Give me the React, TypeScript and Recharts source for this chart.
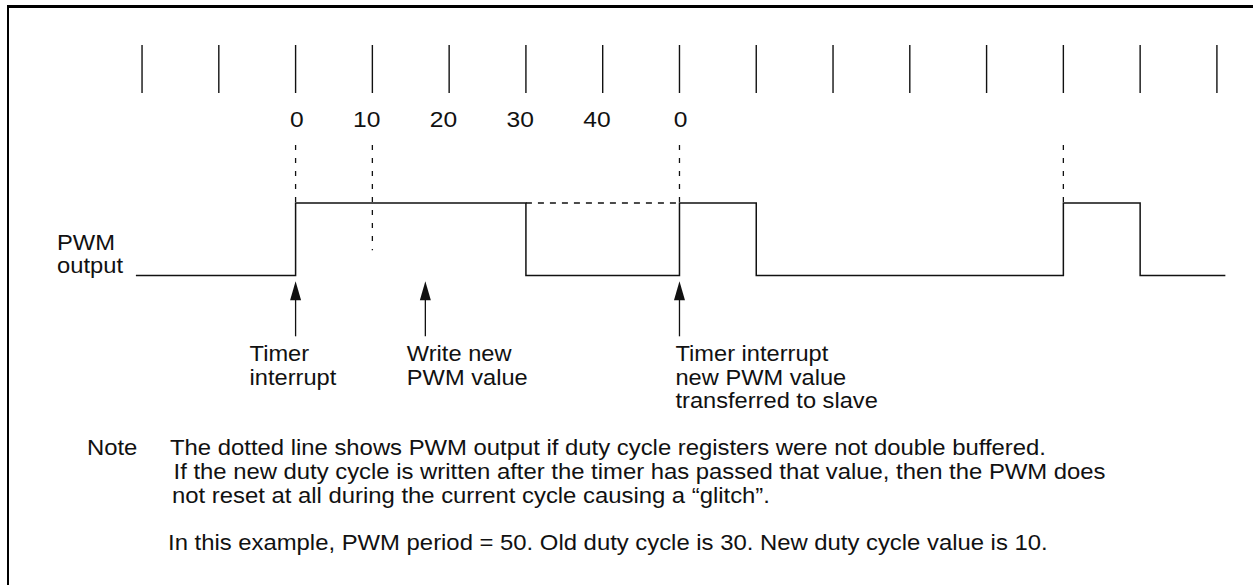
import React from "react";
import {ComposedChart, XAxis, YAxis, Line, Scatter, ReferenceLine} from "recharts";

// counter ticks, every 10 counts
const tickTimes = [-20, -10, 0, 10, 20, 30, 40, 50, 60, 70, 80, 90, 100, 110, 120]
const counterLabels = ['0', '10', '20', '30', '40', '0'] // printed under ticks 0..50

// PWM output, level at each edge (stepAfter)
const edgeTimes = [-20.8, 0, 30, 50, 60, 100, 110, 121.1]
const pwmLevels = [0, 1, 0, 1, 0, 1, 0, 0]

// what the output would do without double buffering
const glitchTimes = [30, 50]

// dotted guides dropped from the counter row
const guideTimes = [0, 10, 50, 100]
const guideEnds = [1, 0.35, 1, 1]
const guideTop = 1.8

const arrowTimes = [0, 16.9, 50]
const arrowTexts = [
    ['Timer', 'interrupt'],
    ['Write new', 'PWM value'],
    ['Timer interrupt', 'new PWM value', 'transferred to slave'],
]
const arrowTip = -0.08

const noteLines = [
    'The dotted line shows PWM output if duty cycle registers were not double buffered.',
    'If the new duty cycle is written after the timer has passed that value, then the PWM does',
    'not reset at all during the current cycle causing a \u201cglitch\u201d.',
]
const exampleLine = 'In this example, PWM period = 50. Old duty cycle is 30. New duty cycle value is 10.'

const W = 1253
const H = 585
const FONT = '"Liberation Sans", Arial, Helvetica, sans-serif'
const INK = '#111'
const LABEL_DX = [-46, -18.5, -4]
const NOTE_X = [170, 173.5, 172]

const pwmData = edgeTimes.map((t, i) => ({t, level: pwmLevels[i]}))
const glitchData = glitchTimes.map(t => ({t, level: 1}))
const arrowData = arrowTimes.map((t, i) => ({t, y: arrowTip, i}))

// the source lettering is a bit wider than Arial, so stretch it
const Txt = ({x, y, children, sx = 1.08, anchor = 'start'}: any) =>
    <text transform={`translate(${x},${y}) scale(${sx},1)`} textAnchor={anchor}
          fontSize={22} fontFamily={FONT} fill={INK}>{children}</text>

const CounterTick = (props: any) => {
    const {x, payload} = props
    const k = payload.value / 10
    const label = k >= 0 && k < counterLabels.length ? counterLabels[k] : ''
    return <g>
        <line x1={x} x2={x} y1={45} y2={93} stroke={INK} strokeWidth={1.4}/>
        {label && <Txt x={x + 8} y={127} sx={1.12} anchor="end">{label}</Txt>}
    </g>
}

const ArrowMark = (props: any) => {
    const {cx, cy, payload} = props
    const i = payload.i
    return <g>
        <polygon points={`${cx},${cy} ${cx - 5.5},${cy + 19} ${cx + 5.5},${cy + 19}`} fill={INK}/>
        <line x1={cx} x2={cx} y1={cy + 18} y2={cy + 55} stroke={INK} strokeWidth={1.3}/>
        {arrowTexts[i].map((s, j) =>
            <Txt key={j} x={cx + LABEL_DX[i]} y={cy + 80 + j * 23.5} sx={1.075}>{s}</Txt>)}
    </g>
}

export default function App() {
    return <div style={{position: 'absolute', left: 0, top: 0, width: W, height: H, background: '#fff', overflow: 'hidden'}}>
        <div style={{position: 'absolute', left: 7, top: 5, width: W, height: H, borderTop: '3px solid #000', borderLeft: '2px solid #000'}}/>
        <div style={{position: 'absolute', left: 0, top: 0}}>
            <ComposedChart width={W} height={H} margin={{top: 0, right: 0, bottom: 0, left: 0}}>
                <XAxis type="number" dataKey="t" domain={[-38.5, 124.7]} ticks={tickTimes} interval={0}
                       height={1} axisLine={false} tickLine={false} tick={<CounterTick/>}/>
                <YAxis type="number" domain={[-4.255, 3.8]} hide/>
                {guideTimes.map((t, i) =>
                    <ReferenceLine key={t} segment={[{x: t, y: guideTop}, {x: t, y: guideEnds[i]}]}
                                   stroke={INK} strokeWidth={1.3} strokeDasharray="5 8"/>)}
                <Line data={glitchData} dataKey="level" type="linear" stroke={INK} strokeWidth={1.3}
                      strokeDasharray="6 6" dot={false} activeDot={false} isAnimationActive={false}/>
                <Line data={pwmData} dataKey="level" type="stepAfter" stroke={INK} strokeWidth={1.5}
                      dot={false} activeDot={false} isAnimationActive={false}/>
                <Scatter data={arrowData} dataKey="y" shape={<ArrowMark/>} isAnimationActive={false}/>
            </ComposedChart>
        </div>
        <svg width={W} height={H} style={{position: 'absolute', left: 0, top: 0}}>
            <Txt x={57} y={250}>PWM</Txt>
            <Txt x={57} y={273}>output</Txt>
            <Txt x={87} y={455} sx={1.085}>Note</Txt>
            {noteLines.map((s, j) =>
                <Txt key={j} x={NOTE_X[j]} y={455 + j * 24} sx={1.085}>{s}</Txt>)}
            <Txt x={168} y={550} sx={1.085}>{exampleLine}</Txt>
        </svg>
    </div>
}
